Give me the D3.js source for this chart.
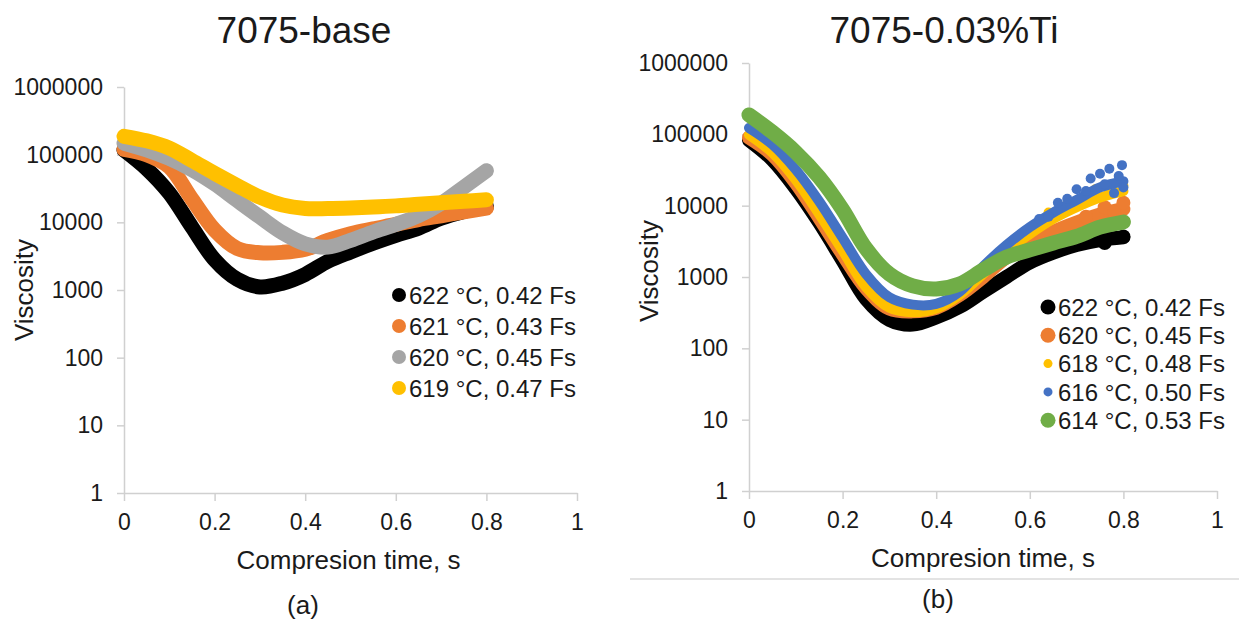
<!DOCTYPE html>
<html>
<head>
<meta charset="utf-8">
<script src="https://cdn.jsdelivr.net/npm/d3@7"></script>
<style>
  html, body { margin: 0; padding: 0; background: #fff; }
  svg { display: block; font-family: "Liberation Sans", Arial, sans-serif; }
</style>
</head>
<body>
<svg id="chart" width="1239" height="623"></svg>
<script>
// ---------- data: panel (a) 7075-base ----------
const timeA = [0, 0.05, 0.1, 0.15, 0.2, 0.25, 0.3, 0.35, 0.4, 0.45, 0.5, 0.55, 0.6, 0.65, 0.7, 0.75, 0.8];
const a622 = [117000, 62000, 27000, 8500, 2800, 1440, 1110, 1260, 1700, 2650, 3650, 4900, 6400, 8200, 11500, 14500, 17000];
const a621 = [120000, 100000, 66000, 22000, 7700, 4100, 3550, 3600, 4000, 5400, 6800, 8000, 9300, 11000, 12500, 14300, 16200];
const a620 = [148000, 118000, 88000, 60000, 37000, 21000, 12000, 7000, 4800, 4300, 5400, 7200, 9300, 12500, 19000, 33000, 58000];
const a619 = [187000, 160000, 125000, 82000, 53000, 35000, 23500, 18000, 16000, 16000, 16300, 16800, 17500, 18500, 19500, 20500, 21500];
const labelsA = ["622 °C, 0.42 Fs", "621 °C, 0.43 Fs", "620 °C, 0.45 Fs", "619 °C, 0.47 Fs"];

// ---------- data: panel (b) 7075-0.03%Ti ----------
const timeB = [0, 0.05, 0.1, 0.15, 0.2, 0.25, 0.3, 0.35, 0.4, 0.45, 0.5, 0.55, 0.6, 0.65, 0.7, 0.75, 0.8];
const b622 = [83000, 44000, 17400, 5800, 1700, 490, 250, 215, 270, 380, 620, 1000, 1600, 2200, 2800, 3300, 3600];
const b620 = [90000, 52000, 21000, 6800, 2100, 700, 360, 330, 370, 560, 1000, 1900, 3000, 4300, 5800, 7500, 9000];
const b618 = [98000, 55000, 23000, 7600, 2350, 720, 370, 320, 360, 560, 1100, 2300, 4000, 6500, 9500, 13000, 16000];
const b616 = [123000, 72000, 32000, 11500, 3550, 1100, 520, 410, 420, 620, 1400, 2800, 5000, 8000, 12000, 18000, 22000];
const b614 = [187000, 107000, 56000, 25000, 8800, 2500, 1100, 750, 680, 800, 1250, 1900, 2400, 3000, 3700, 5000, 5900];
const labelsB = ["622 °C, 0.42 Fs", "620 °C, 0.45 Fs", "618 °C, 0.48 Fs", "616 °C, 0.50 Fs", "614 °C, 0.53 Fs"];

// scattered readings at the end of the Ti runs
const b616TailT = [0.62, 0.64, 0.66, 0.68, 0.7, 0.72, 0.73, 0.75, 0.76, 0.77, 0.78, 0.79, 0.797, 0.8];
const b616TailV = [6500, 7000, 11000, 12500, 17000, 16000, 24000, 28000, 20000, 33000, 15000, 26000, 37000, 18000];
const b618TailT = [0.64, 0.68, 0.71, 0.74, 0.77, 0.8];
const b618TailV = [8000, 10500, 12500, 17000, 15000, 19000];
const b620TailT = [0.72, 0.76, 0.78, 0.8];
const b620TailV = [7000, 9500, 8000, 11000];
const b622TailT = [0.66, 0.72, 0.76, 0.8];
const b622TailV = [2500, 3200, 3000, 3700];

const yTicks = [1, 10, 100, 1000, 10000, 100000, 1000000];
const xTicks = [0, 0.2, 0.4, 0.6, 0.8, 1];
const xTickLabels = ["0", "0.2", "0.4", "0.6", "0.8", "1"];

const svg = d3.select("#chart");
const axisColor = "#d0d0d0";
const textColor = "#1a1a1a";

function drawPanel(cfg) {
  const x = d3.scaleLinear().domain([0, 1]).range([cfg.left, cfg.right]);
  const y = d3.scaleLog().domain([1, 1000000]).range([cfg.bottom, cfg.top]);
  const g = svg.append("g");

  // axes
  const yAxis = d3.axisLeft(y).tickValues(yTicks).tickFormat(d3.format("d"))
    .tickSize(7).tickSizeOuter(0).tickPadding(14);
  const xAxis = d3.axisBottom(x).tickValues(xTicks).tickFormat((d, i) => xTickLabels[i])
    .tickSize(8).tickSizeOuter(0).tickPadding(13);
  const gy = g.append("g").attr("transform", `translate(${cfg.left},0)`).call(yAxis);
  const gx = g.append("g").attr("transform", `translate(0,${cfg.bottom})`).call(xAxis);
  [gx, gy].forEach(a => {
    a.select(".domain").attr("stroke", axisColor).attr("stroke-width", 1.5);
    a.selectAll(".tick line").attr("stroke", axisColor).attr("stroke-width", 1.5);
    a.selectAll("text").attr("fill", textColor).style("font-size", "23px")
      .style("font-family", '"Liberation Sans", Arial, sans-serif');
  });

  // series: thick smooth bands of dense markers
  const line = d3.line().x(d => x(d[0])).y(d => y(d[1])).curve(d3.curveCatmullRom.alpha(0.5));
  cfg.series.forEach(s => {
    const pts = s.t.map((t, i) => [t, s.v[i]]);
    g.append("path").datum(pts).attr("d", line)
      .attr("fill", "none").attr("stroke", s.color).attr("stroke-width", s.r * 2)
      .attr("stroke-linecap", "round").attr("stroke-linejoin", "round");
    if (s.tailT) {
      g.selectAll(null).data(s.tailT.map((t, i) => [t, s.tailV[i]])).enter()
        .append("circle").attr("cx", d => x(d[0])).attr("cy", d => y(d[1]))
        .attr("r", s.r).attr("fill", s.color);
    }
  });

  // titles
  g.append("text").attr("x", cfg.titleX).attr("y", 43).attr("text-anchor", "middle")
    .attr("fill", textColor).style("font-size", "37px").text(cfg.title);
  g.append("text").attr("x", (cfg.left + cfg.right) / 2 + cfg.xTitleShift).attr("y", cfg.bottom + 76)
    .attr("text-anchor", "middle").attr("fill", textColor).style("font-size", "26px")
    .text("Compresion time, s");
  g.append("text").attr("transform", `translate(${cfg.yTitleX},${cfg.yTitleY}) rotate(-90)`)
    .attr("text-anchor", "middle").attr("fill", textColor).style("font-size", "26px")
    .text("Viscosity");
  g.append("text").attr("x", cfg.tagX).attr("y", cfg.tagY).attr("text-anchor", "middle")
    .attr("fill", textColor).style("font-size", "26px").text(cfg.tag);

  // legend
  const lg = g.append("g");
  cfg.series.forEach((s, i) => {
    const yy = cfg.legendY + i * cfg.legendStep;
    lg.append("circle").attr("cx", cfg.legendX).attr("cy", yy).attr("r", s.lr).attr("fill", s.color);
    lg.append("text").attr("x", cfg.legendX + 10).attr("y", yy).attr("dy", "0.36em")
      .attr("fill", textColor).style("font-size", "24px").text(s.label);
  });
}

drawPanel({
  left: 124, right: 577, top: 87, bottom: 493,
  title: "7075-base", titleX: 304, tag: "(a)", tagX: 303, tagY: 614,
  xTitleShift: -2, yTitleX: 33, yTitleY: 290,
  legendX: 399, legendY: 295, legendStep: 31,
  series: [
    { t: timeA, v: a622, color: "#000000", r: 7.5, lr: 7, label: labelsA[0] },
    { t: timeA, v: a621, color: "#ED7D31", r: 7.5, lr: 7, label: labelsA[1] },
    { t: timeA, v: a620, color: "#A5A5A5", r: 7.5, lr: 7, label: labelsA[2] },
    { t: timeA, v: a619, color: "#FFC000", r: 7.5, lr: 7, label: labelsA[3] }
  ]
});

drawPanel({
  left: 749, right: 1217, top: 63, bottom: 491,
  title: "7075-0.03%Ti", titleX: 944, tag: "(b)", tagX: 938, tagY: 608,
  xTitleShift: 0, yTitleX: 658, yTitleY: 271,
  legendX: 1048, legendY: 307, legendStep: 28.3,
  series: [
    { t: timeB, v: b622, color: "#000000", r: 7, lr: 7.5, label: labelsB[0], tailT: b622TailT, tailV: b622TailV },
    { t: timeB, v: b620, color: "#ED7D31", r: 7, lr: 7.5, label: labelsB[1], tailT: b620TailT, tailV: b620TailV },
    { t: timeB, v: b618, color: "#FFC000", r: 5, lr: 4.5, label: labelsB[2], tailT: b618TailT, tailV: b618TailV },
    { t: timeB, v: b616, color: "#4472C4", r: 5, lr: 4.5, label: labelsB[3], tailT: b616TailT, tailV: b616TailV },
    { t: timeB, v: b614, color: "#70AD47", r: 7.5, lr: 7.5, label: labelsB[4] }
  ]
});

// rule under panel (b)
svg.append("line").attr("x1", 630).attr("x2", 1239).attr("y1", 579).attr("y2", 579)
  .attr("stroke", "#c8c8c8").attr("stroke-width", 1.2);
</script>
</body>
</html>
